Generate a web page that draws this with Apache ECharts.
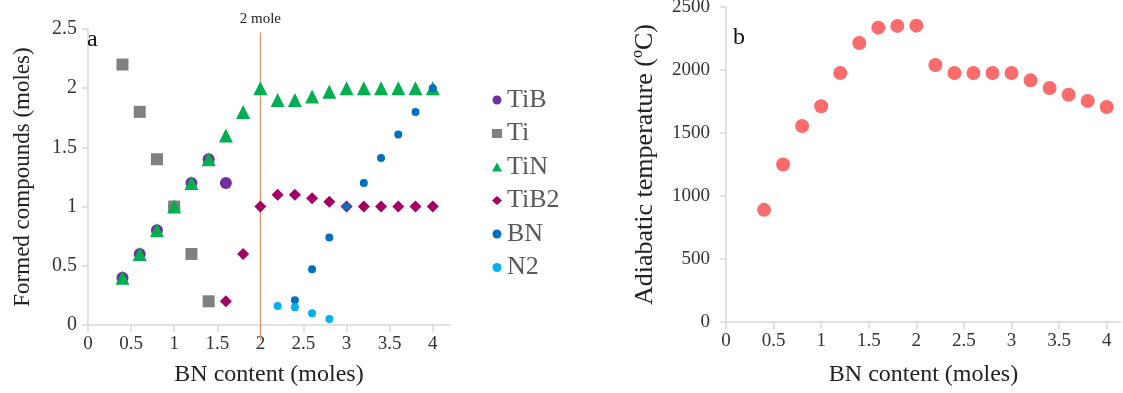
<!DOCTYPE html>
<html>
<head>
<meta charset="utf-8">
<script src="https://cdn.jsdelivr.net/npm/echarts@6/dist/echarts.min.js"></script>
<style>
  html, body { margin: 0; padding: 0; background: #fff; }
  #chart { width: 1123px; height: 393px; }
</style>
</head>
<body>
<div id="chart"></div>
<script>
// BN content (moles) for every composition
const bnMoles = [0.4, 0.6, 0.8, 1.0, 1.2, 1.4, 1.6, 1.8, 2.0, 2.2, 2.4, 2.6, 2.8, 3.0, 3.2, 3.4, 3.6, 3.8, 4.0];

// formed compounds (moles), null = not present
const tib  = [0.4, 0.6, 0.8, 1.0, 1.2, 1.4, 1.2, null, null, null, null, null, null, null, null, null, null, null, null];
const ti   = [2.2, 1.8, 1.4, 1.0, 0.6, 0.2, null, null, null, null, null, null, null, null, null, null, null, null, null];
const tin  = [0.4, 0.6, 0.8, 1.0, 1.2, 1.4, 1.6, 1.8, 2.0, 1.9, 1.9, 1.93, 1.97, 2.0, 2.0, 2.0, 2.0, 2.0, 2.0];
const tib2 = [null, null, null, null, null, null, 0.2, 0.6, 1.0, 1.1, 1.1, 1.07, 1.04, 1.0, 1.0, 1.0, 1.0, 1.0, 1.0];
const bn   = [null, null, null, null, null, null, null, null, null, null, 0.21, 0.47, 0.74, 1.0, 1.2, 1.41, 1.61, 1.8, 2.0];
const n2   = [null, null, null, null, null, null, null, null, null, 0.16, 0.15, 0.1, 0.05, null, null, null, null, null, null];

// adiabatic temperature (ºC)
const adiabaticTemp = [890, 1250, 1555, 1712, 1976, 2214, 2336, 2350, 2352, 2040, 1976, 1976, 1976, 1976, 1918, 1857, 1804, 1754, 1706];

// tick labels
const xTicks = [0, 0.5, 1, 1.5, 2, 2.5, 3, 3.5, 4];

// vertical "2 mole" marker: x, top, bottom
const moleMarker = [[2, 2.47, -0.13]];

const serif = 'Liberation Serif';
const axisGray = '#d9d9d9';

function pairs(values) {
    let out = [];
    for (let i = 0; i < bnMoles.length; i++) {
        if (values[i] !== null) out.push([bnMoles[i], values[i]]);
    }
    return out;
}

function plain(v) {
    return String(v);
}

function xAxisFor(gridIndex, max, gap) {
    return {
        type: 'value',
        gridIndex: gridIndex,
        min: 0,
        max: max,
        interval: 0.5,
        splitLine: { show: false },
        axisLine: { lineStyle: { color: axisGray, width: 1.5 } },
        axisTick: { show: true, length: 7, customValues: xTicks, lineStyle: { color: axisGray, width: 1.5 } },
        axisLabel: { customValues: xTicks, formatter: plain, margin: 10, color: '#333', fontFamily: serif, fontSize: 19 },
        name: 'BN content (moles)',
        nameLocation: 'middle',
        nameGap: gap,
        nameTextStyle: { color: '#222', fontFamily: serif, fontSize: 24 }
    };
}

function yAxisFor(gridIndex, max, interval, name, gap, nameSize, labelSize, labelMargin) {
    return {
        type: 'value',
        gridIndex: gridIndex,
        min: 0,
        max: max,
        interval: interval,
        splitLine: { show: false },
        axisLine: { show: true, lineStyle: { color: axisGray, width: 1.5 } },
        axisTick: { show: true, length: 6, lineStyle: { color: axisGray, width: 1.5 } },
        axisLabel: { formatter: plain, margin: labelMargin, color: '#333', fontFamily: serif, fontSize: labelSize },
        name: name,
        nameLocation: 'middle',
        nameGap: gap,
        nameTextStyle: { color: '#222', fontFamily: serif, fontSize: nameSize }
    };
}

const chart = echarts.init(document.getElementById('chart'));

chart.setOption({
    animation: false,
    title: [
        { text: 'a', left: 87, top: 28, padding: 0, textStyle: { fontFamily: serif, fontSize: 24, fontWeight: 'normal', color: '#111' } },
        { text: 'b', left: 733, top: 26, padding: 0, textStyle: { fontFamily: serif, fontSize: 24, fontWeight: 'normal', color: '#111' } }
    ],
    legend: {
        data: ['TiB', 'Ti', 'TiN', 'TiB2', 'BN', 'N2'],
        orient: 'vertical',
        left: 487,
        top: 82,
        itemWidth: 10,
        itemHeight: 9,
        itemGap: 7.5,
        textStyle: { fontFamily: serif, fontSize: 26, color: '#595959', lineHeight: 26 }
    },
    grid: [
        { left: 88, top: 29, width: 362, bottom: 68, outerBoundsMode: 'none' },
        { left: 726, top: 7, width: 395, bottom: 71, outerBoundsMode: 'none' }
    ],
    xAxis: [xAxisFor(0, 4.2, 38), xAxisFor(1, 4.15, 41)],
    yAxis: [
        yAxisFor(0, 2.5, 0.5, 'Formed compounds (moles)', 54, 23, 20, 11),
        yAxisFor(1, 2500, 500, 'Adiabatic temperature (ºC)', 68, 26, 19, 16)
    ],
    series: [
        {
            type: 'custom',
            xAxisIndex: 0,
            yAxisIndex: 0,
            clip: false,
            silent: true,
            data: moleMarker,
            encode: { x: 0, y: 1 },
            renderItem: function (params, api) {
                const top = api.coord([api.value(0), api.value(1)]);
                const bottom = api.coord([api.value(0), api.value(2)]);
                return {
                    type: 'group',
                    children: [
                        {
                            type: 'line',
                            shape: { x1: top[0], y1: top[1], x2: bottom[0], y2: bottom[1] },
                            style: { stroke: '#d99a6c', lineWidth: 1.2 }
                        },
                        {
                            type: 'text',
                            style: {
                                text: '2 mole', x: top[0], y: top[1] - 6,
                                align: 'center', verticalAlign: 'bottom',
                                font: '15px "Liberation Serif"', fill: '#222'
                            }
                        }
                    ]
                };
            }
        },
        { name: 'TiB', type: 'scatter', symbol: 'circle', symbolSize: 12, itemStyle: { color: '#7030a0', opacity: 1 }, data: pairs(tib) },
        { name: 'Ti', type: 'scatter', symbol: 'rect', symbolSize: 12, itemStyle: { color: '#808080', opacity: 1 }, data: pairs(ti) },
        { name: 'TiN', type: 'scatter', symbol: 'triangle', symbolSize: 14, itemStyle: { color: '#00b050', opacity: 1 }, data: pairs(tin) },
        { name: 'TiB2', type: 'scatter', symbol: 'diamond', symbolSize: 12, itemStyle: { color: '#a50064', opacity: 1 }, data: pairs(tib2) },
        { name: 'BN', type: 'scatter', symbol: 'circle', symbolSize: 8, itemStyle: { color: '#0070c0', opacity: 1 }, data: pairs(bn) },
        { name: 'N2', type: 'scatter', symbol: 'circle', symbolSize: 8, itemStyle: { color: '#00b0f0', opacity: 1 }, data: pairs(n2) },
        {
            name: 'Adiabatic temperature',
            type: 'scatter',
            xAxisIndex: 1,
            yAxisIndex: 1,
            symbol: 'circle',
            symbolSize: 14,
            itemStyle: { color: '#fa6b6b', opacity: 1 },
            data: pairs(adiabaticTemp)
        }
    ]
});
</script>
</body>
</html>
